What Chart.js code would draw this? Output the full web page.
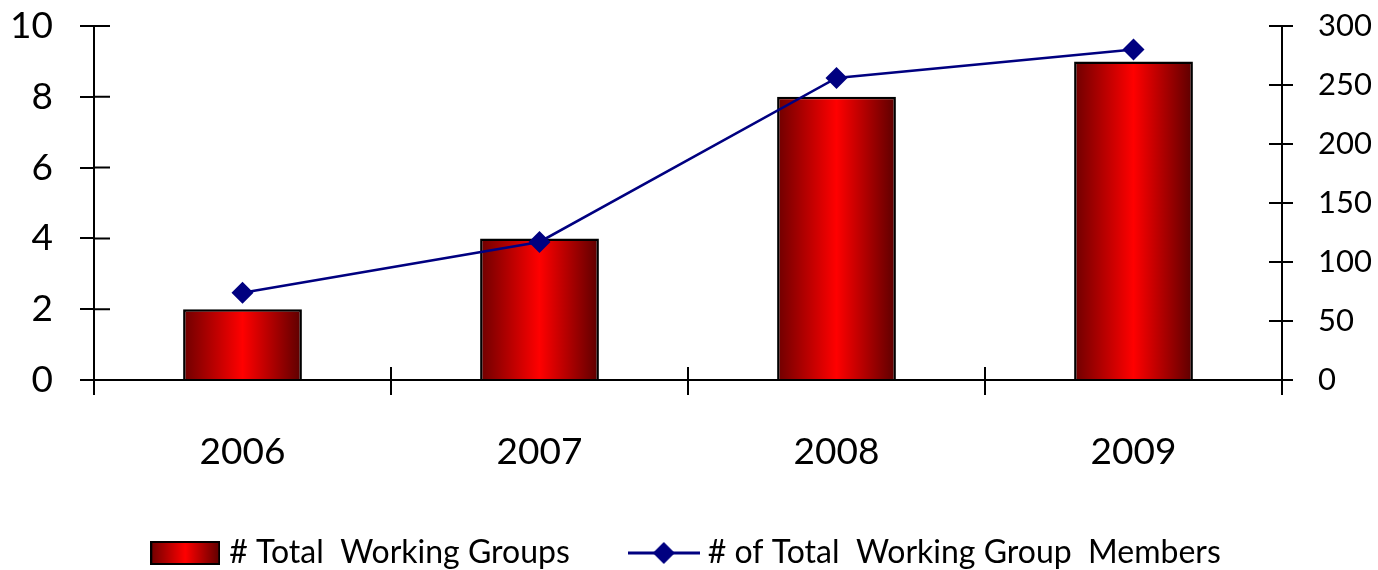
<!DOCTYPE html>
<html>
<head>
<meta charset="utf-8">
<script src="https://cdn.jsdelivr.net/npm/chart.js@4.4.1/dist/chart.umd.min.js"></script>
<style>
  html, body { margin: 0; padding: 0; background: #fff; }
  #wrap { width: 1378px; height: 570px; }
</style>
</head>
<body>
<div id="wrap"><canvas id="chart"></canvas></div>
<script>
const years = ['2006', '2007', '2008', '2009'];
const workingGroups = [2, 4, 8, 9];
const groupMembers = [74, 117, 256, 280];
const leftTicks = [0, 2, 4, 6, 8, 10];
const rightTicks = [0, 50, 100, 150, 200, 250, 300];

const FONT = 'Lato, "Noto Sans", sans-serif';

// little pictures for the legend entries
function barSwatch() {
    const c = document.createElement('canvas');
    c.width = 70; c.height = 24;
    const g = c.getContext('2d');
    const grad = g.createLinearGradient(0, 0, 70, 0);
    grad.addColorStop(0, '#6e0000');
    grad.addColorStop(0.5, '#ff0000');
    grad.addColorStop(1, '#5c0000');
    g.fillStyle = grad;
    g.fillRect(1, 1, 68, 22);
    g.strokeStyle = '#000';
    g.lineWidth = 2;
    g.strokeRect(1, 1, 68, 22);
    return c;
}

function lineSwatch() {
    const c = document.createElement('canvas');
    c.width = 72; c.height = 24;
    const g = c.getContext('2d');
    g.strokeStyle = '#000080';
    g.lineWidth = 3;
    g.beginPath(); g.moveTo(0, 12); g.lineTo(72, 12); g.stroke();
    g.fillStyle = '#000080';
    g.beginPath(); g.moveTo(36, 1); g.lineTo(47, 12); g.lineTo(36, 23); g.lineTo(25, 12); g.closePath(); g.fill();
    return c;
}

const swatches = [barSwatch(), lineSwatch()];

// horizontal dark-bright-dark shading, one gradient per bar
const barShading = {
    id: 'barShading',
    beforeDatasetsDraw(chart) {
        const ctx = chart.ctx;
        chart.getDatasetMeta(0).data.forEach(bar => {
            const x0 = bar.x - bar.width / 2, x1 = bar.x + bar.width / 2;
            const grad = ctx.createLinearGradient(x0, 0, x1, 0);
            grad.addColorStop(0, '#6e0000');
            grad.addColorStop(0.5, '#ff0000');
            grad.addColorStop(1, '#5c0000');
            bar.options.backgroundColor = grad;
        });
    }
};

// tick marks crossing the axis lines
const innerTicks = {
    id: 'innerTicks',
    afterDraw(chart) {
        const { ctx, chartArea, scales } = chart;
        ctx.save();
        ctx.strokeStyle = '#000';
        ctx.lineWidth = 2;
        ctx.beginPath();
        scales.y.ticks.forEach((t, i) => {
            const y = scales.y.getPixelForTick(i);
            ctx.moveTo(chartArea.left, y); ctx.lineTo(chartArea.left + 16, y);
        });
        scales.y1.ticks.forEach((t, i) => {
            const y = scales.y1.getPixelForTick(i);
            ctx.moveTo(chartArea.right - 13, y); ctx.lineTo(chartArea.right, y);
        });
        for (let i = 0; i <= years.length; i++) {
            const x = scales.x.getPixelForDecimal(i / years.length);
            ctx.moveTo(x, chartArea.bottom - 13); ctx.lineTo(x, chartArea.bottom);
        }
        ctx.stroke();
        ctx.restore();
    }
};

const ctx = document.getElementById('chart').getContext('2d');
const chart = new Chart(ctx, {
    data: {
        labels: years,
        datasets: [{
            type: 'bar',
            label: '# Total  Working Groups',
            data: workingGroups,
            yAxisID: 'y',
            backgroundColor: c => '#ff0000', // scriptable so every bar keeps its own options
            borderColor: '#000',
            borderWidth: 2.5,
            barPercentage: 0.4,
            categoryPercentage: 1,
            order: 1
        }, {
            type: 'line',
            label: '# of Total  Working Group  Members',
            data: groupMembers,
            yAxisID: 'y1',
            borderColor: '#000080',
            borderWidth: 2.5,
            pointStyle: 'rectRot',
            pointRadius: 11,
            pointBackgroundColor: '#000080',
            pointBorderColor: '#000080',
            pointBorderWidth: 0,
            tension: 0,
            order: 0
        }]
    },
    options: {
        responsive: true,
        maintainAspectRatio: false,
        animation: false,
        layout: { padding: { top: 26, left: 0, right: 0, bottom: -9 } },
        plugins: {
            tooltip: { enabled: false },
            legend: {
                position: 'bottom',
                labels: {
                    font: { family: FONT, size: 32 },
                    color: '#000',
                    usePointStyle: true,
                    pointStyleWidth: 56,
                    padding: 66,
                    sort: (a, b) => a.datasetIndex - b.datasetIndex,
                    generateLabels(chart) {
                        const items = Chart.defaults.plugins.legend.labels.generateLabels(chart);
                        items.forEach(it => { it.pointStyle = swatches[it.datasetIndex]; });
                        return items;
                    }
                }
            }
        },
        scales: {
            x: {
                offset: true,
                grid: { display: true, drawOnChartArea: false, drawTicks: true, tickLength: 15, color: '#000', lineWidth: 2, offset: true },
                border: { display: true, color: '#000', width: 2 },
                ticks: { font: { family: FONT, size: 37 }, color: '#000', padding: 35 },
                afterFit: s => { s.height = 91; }
            },
            y: {
                position: 'left',
                min: 0,
                max: 10,
                afterBuildTicks: s => { s.ticks = leftTicks.map(v => ({ value: v })); },
                grid: { display: true, drawOnChartArea: false, tickLength: 14, color: '#000', lineWidth: 2 },
                border: { display: true, color: '#000', width: 2 },
                ticks: { font: { family: FONT, size: 37 }, color: '#000', padding: 27 },
                afterFit: s => { s.width = 94; s.paddingTop = 0; s.paddingBottom = 0; }
            },
            y1: {
                position: 'right',
                min: 0,
                max: 300,
                afterBuildTicks: s => { s.ticks = rightTicks.map(v => ({ value: v })); },
                grid: { display: true, drawOnChartArea: false, tickLength: 11, color: '#000', lineWidth: 2 },
                border: { display: true, color: '#000', width: 2 },
                ticks: { font: { family: FONT, size: 31 }, color: '#000', padding: 25 },
                afterFit: s => { s.width = 96; s.paddingTop = 0; s.paddingBottom = 0; }
            }
        }
    },
    plugins: [barShading, innerTicks]
});
</script>
</body>
</html>
